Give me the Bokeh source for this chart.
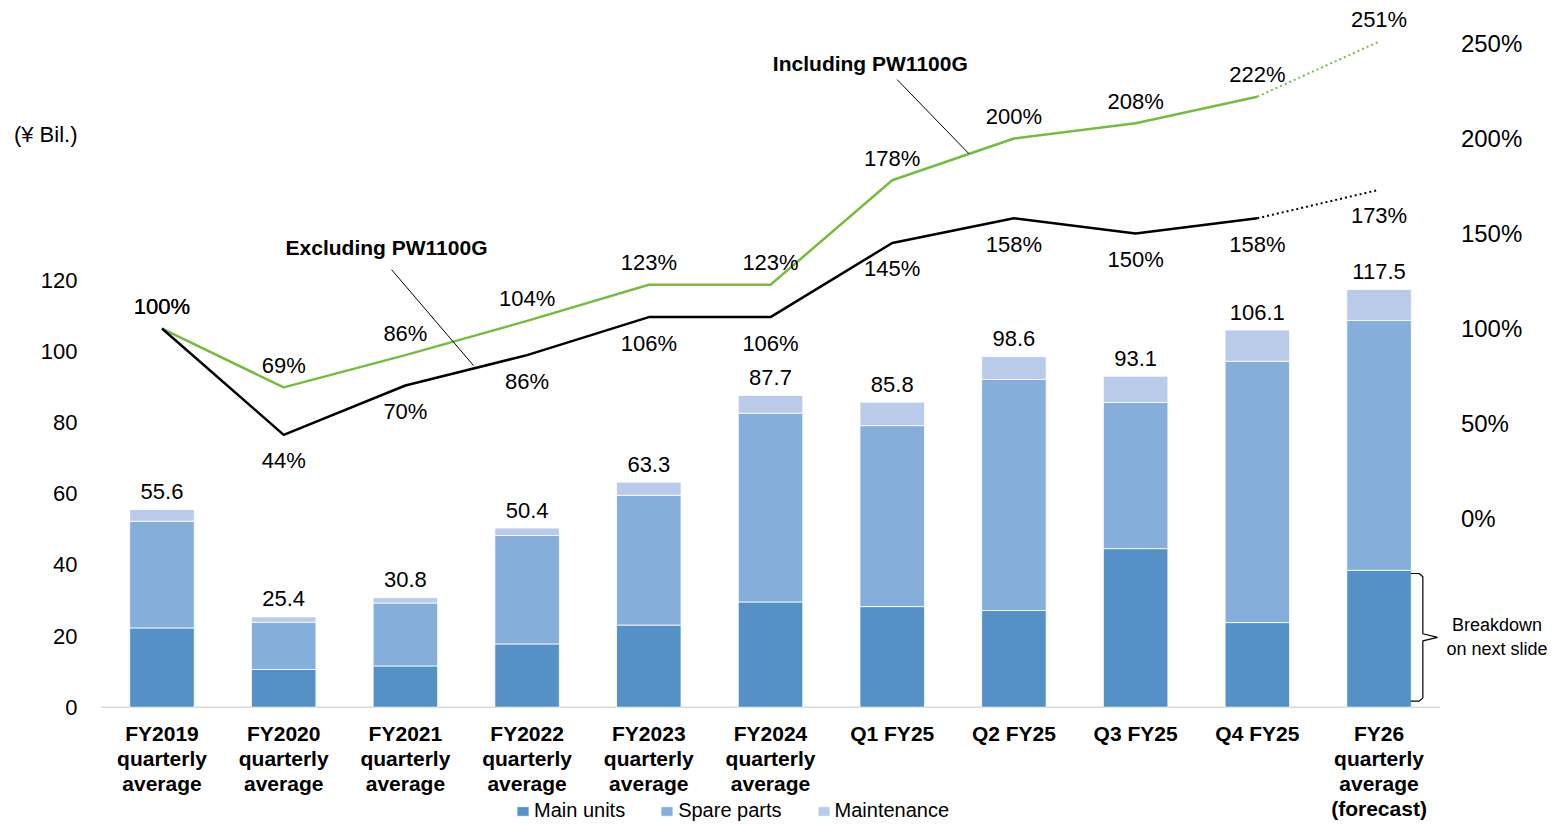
from bokeh.plotting import figure
from bokeh.models import (ColumnDataSource, Range1d, FixedTicker, Legend, LegendItem)
from bokeh.core.properties import value
from bokeh.embed import file_html
from bokeh.resources import INLINE

# ---------------- data ----------------
categories = [
    "FY2019\nquarterly\naverage",
    "FY2020\nquarterly\naverage",
    "FY2021\nquarterly\naverage",
    "FY2022\nquarterly\naverage",
    "FY2023\nquarterly\naverage",
    "FY2024\nquarterly\naverage",
    "Q1 FY25",
    "Q2 FY25",
    "Q3 FY25",
    "Q4 FY25",
    "FY26\nquarterly\naverage\n(forecast)",
]
main_units = [22.3, 10.6, 11.6, 17.8, 23.1, 29.6, 28.3, 27.2, 44.6, 23.8, 38.5]
spare_parts = [30.0, 13.3, 17.7, 30.5, 36.5, 53.1, 50.9, 65.0, 41.1, 73.5, 70.3]
maintenance = [3.3, 1.5, 1.5, 2.1, 3.7, 5.0, 6.6, 6.4, 7.4, 8.8, 8.7]
totals = [55.6, 25.4, 30.8, 50.4, 63.3, 87.7, 85.8, 98.6, 93.1, 106.1, 117.5]
incl_pct = [100, 69, 86, 104, 123, 123, 178, 200, 208, 222, 251]
excl_pct = [100, 44, 70, 86, 106, 106, 145, 158, 150, 158, 173]
left_ticks = [0, 20, 40, 60, 80, 100, 120]
right_ticks = [0, 50, 100, 150, 200, 250]
series_names = ["Main units", "Spare parts", "Maintenance"]
unit_label = "(¥ Bil.)"
unit_label_pos = 161.2          # in ¥ Bil. axis units
incl_title = "Including PW1100G"
excl_title = "Excluding PW1100G"
note_text = "Breakdown\non next slide"

FONT = "Liberation Sans"
C_MAIN, C_SPARE, C_MAINT = "#5591C7", "#86AEDB", "#B9CBE8"
C_GREEN = "#77BC41"
TXT = dict(text_font=value(FONT), text_color="black")

n = len(categories)
xs = list(range(n))

p = figure(width=1560, height=824,
           x_range=Range1d(-0.497, 11.491), y_range=Range1d(-33.0, 198.79),
           output_backend="svg", toolbar_location=None,
           x_axis_location=None, y_axis_location="left",
           min_border_left=101, min_border_right=0,
           min_border_top=0, min_border_bottom=0)
p.extra_y_ranges = {"pct": Range1d(-161.05, 272.63)}
p.grid.visible = False
p.outline_line_color = None

# left axis (¥ Bil.), unit shown as label at its own height
ya = p.yaxis[0]
ya.ticker = FixedTicker(ticks=left_ticks + [unit_label_pos])
ya.major_label_overrides = {unit_label_pos: unit_label}
ya.axis_line_color = None
ya.major_tick_line_color = None
ya.minor_tick_line_color = None
ya.major_label_text_font = FONT
ya.major_label_text_font_size = "22px"
ya.major_label_text_color = "black"
ya.major_label_standoff = 18

# category baseline
p.line([-0.5, n - 0.5], [0, 0], line_color="#D9D9D9", line_width=1.5)

# bars
src = ColumnDataSource(dict(
    x=xs, main=main_units, spare=spare_parts, maint=maintenance,
    total=totals, total_lbl=[f"{v:.1f}" for v in totals],
    zero=[0] * n, cat=categories,
))
bars = p.vbar_stack(["main", "spare", "maint"], x="x", width=0.53,
                    color=[C_MAIN, C_SPARE, C_MAINT],
                    line_color="white", line_width=0.8, source=src)
p.text(x="x", y="total", text="total_lbl", source=src, y_offset=-18,
       text_align="center", text_baseline="middle", text_font_size="22px", **TXT)

# category labels
p.text(x="x", y="zero", text="cat", source=src, y_offset=15,
       text_align="center", text_baseline="top", text_font_size="21px",
       text_font_style="bold", text_line_height=1.08, **TXT)

# right percentage scale labels
rsrc = ColumnDataSource(dict(x=[n - 0.5] * len(right_ticks), y=right_ticks,
                             t=[f"{t}%" for t in right_ticks]))
p.text(x="x", y="y", text="t", source=rsrc, y_range_name="pct", x_offset=21,
       text_align="left", text_baseline="middle", text_font_size="24px", **TXT)

# lines (solid for actuals, dotted for forecast)
p.line(xs[:-1], incl_pct[:-1], y_range_name="pct", line_color=C_GREEN, line_width=2.5)
p.line(xs[-2:], incl_pct[-2:], y_range_name="pct", line_color=C_GREEN, line_width=2,
       line_dash="2 3")
p.line(xs[:-1], excl_pct[:-1], y_range_name="pct", line_color="black", line_width=2.5)
p.line(xs[-2:], excl_pct[-2:], y_range_name="pct", line_color="black", line_width=2,
       line_dash="2 3")

# percent labels
inc_src = ColumnDataSource(dict(x=xs, y=incl_pct, t=[f"{v}%" for v in incl_pct]))
p.text(x="x", y="y", text="t", source=inc_src, y_range_name="pct", y_offset=-22,
       text_align="center", text_baseline="middle", text_font_size="22px", **TXT)
exc_src0 = ColumnDataSource(dict(x=xs[:1], y=excl_pct[:1], t=[f"{v}%" for v in excl_pct[:1]]))
p.text(x="x", y="y", text="t", source=exc_src0, y_range_name="pct", y_offset=-22,
       text_align="center", text_baseline="middle", text_font_size="22px", **TXT)
exc_src = ColumnDataSource(dict(x=xs[1:], y=excl_pct[1:], t=[f"{v}%" for v in excl_pct[1:]]))
p.text(x="x", y="y", text="t", source=exc_src, y_range_name="pct", y_offset=26,
       text_align="center", text_baseline="middle", text_font_size="22px", **TXT)

# callouts
p.segment(x0=[1.886, 6.04], y0=[131.0, 231.0], x1=[2.56, 6.63], y1=[80.5, 192.0],
          y_range_name="pct", line_color="black", line_width=1)
p.text(x=[1.845, 5.82], y=[142.6, 239.5], text=[excl_title, incl_title],
       y_range_name="pct", text_align="center", text_baseline="middle",
       text_font_size="21px", text_font_style="bold", **TXT)

# bracket beside forecast main units
last = n - 1
bx0 = last + 0.53 / 2 - 0.005
bx1 = bx0 + 0.1
bx2 = bx1 + 0.12
btop = main_units[last] - 0.9
bbot = 1.7
bmid = (btop + bbot) / 2
p.line([bx0, bx1 - 0.03, bx1, bx1, bx2, bx1, bx1, bx1 - 0.03, bx0],
       [btop, btop, btop - 0.9, bmid + 1.0, bmid, bmid - 1.0, bbot + 0.9, bbot, bbot],
       line_color="black", line_width=1.2)
p.text(x=[last + 0.97], y=[bmid], text=[note_text], text_align="center",
       text_baseline="middle", text_font_size="18px", text_line_height=1.2, **TXT)

# legend
legend = Legend(items=[LegendItem(label=series_names[i], renderers=[bars[i]]) for i in range(3)],
                orientation="horizontal", location=(414, 2),
                padding=0, margin=0, spacing=34, glyph_width=15, glyph_height=12,
                label_standoff=4, label_height=20,
                border_line_color=None, background_fill_alpha=0,
                label_text_font=FONT, label_text_font_size="20px", label_text_color="black")
p.add_layout(legend)

open("out.html", "w").write(file_html(p, INLINE))
